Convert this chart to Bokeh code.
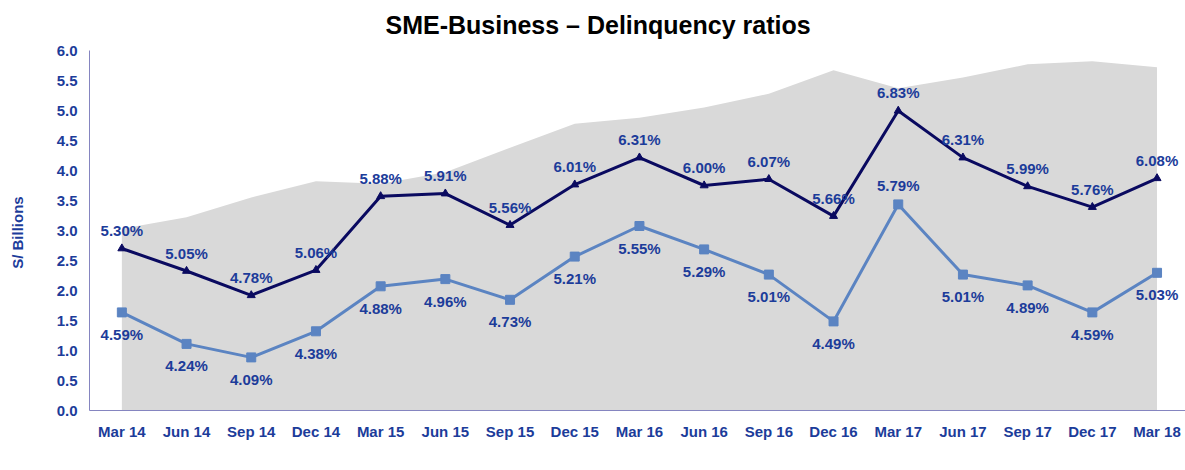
from bokeh.plotting import figure
from bokeh.models import Range1d, FixedTicker, Legend, LegendItem, Title, ColumnDataSource, NumeralTickFormatter
from bokeh.core.properties import value
from bokeh.embed import file_html
from bokeh.resources import INLINE

# ---- data ----
quarters = ["Mar 14", "Jun 14", "Sep 14", "Dec 14", "Mar 15", "Jun 15", "Sep 15", "Dec 15",
            "Mar 16", "Jun 16", "Sep 16", "Dec 16", "Mar 17", "Jun 17", "Sep 17", "Dec 17", "Mar 18"]
loans = [3.03, 3.22, 3.55, 3.82, 3.78, 3.97, 4.38, 4.78,
         4.88, 5.05, 5.28, 5.67, 5.37, 5.55, 5.77, 5.82, 5.72]
iol = [4.59, 4.24, 4.09, 4.38, 4.88, 4.96, 4.73, 5.21,
       5.55, 5.29, 5.01, 4.49, 5.79, 5.01, 4.89, 4.59, 5.03]
npl = [5.30, 5.05, 4.78, 5.06, 5.88, 5.91, 5.56, 6.01,
       6.31, 6.00, 6.07, 5.66, 6.83, 6.31, 5.99, 5.76, 6.08]
iol_label_side = ["below"] * 12 + ["above"] + ["below"] * 4
left_ticks = [0.0, 0.5, 1.0, 1.5, 2.0, 2.5, 3.0, 3.5, 4.0, 4.5, 5.0, 5.5, 6.0]

FONT = "Liberation Sans"
BLUE = "#1C3C9A"
NAVY = "#0A0A60"
LIGHT = "#5B84C2"
GRAY = "#D9D9D9"
AXIS = "#8585C0"

xs = list(range(len(quarters)))

p = figure(frame_width=1096, frame_height=360, output_backend="svg", toolbar_location=None,
           x_range=Range1d(-0.5, 16.44), y_range=Range1d(0, 6),
           min_border_left=89, min_border_right=0, min_border_top=50, min_border_bottom=0)
p.extra_y_ranges = {"pct": Range1d(3.5, 7.5)}
p.background_fill_color = "white"
p.border_fill_color = "white"
p.outline_line_color = None
p.grid.visible = False

t = Title(text="SME-Business \u2013 Delinquency ratios", align="left", offset=296,
          vertical_align="top",
          text_font=FONT, text_font_size="25px", text_font_style="bold", text_color="black",
          standoff=19)
p.add_layout(t, "above")

area = p.varea(x=xs, y1=[0] * len(xs), y2=loans, fill_color=GRAY)

iol_line = p.line(xs, iol, y_range_name="pct", line_color=LIGHT, line_width=3)
iol_pts = p.scatter(xs, iol, y_range_name="pct", marker="square", size=9,
                    fill_color=LIGHT, line_color=LIGHT)
npl_line = p.line(xs, npl, y_range_name="pct", line_color=NAVY, line_width=3)
npl_pts = p.scatter(xs, npl, y_range_name="pct", marker="triangle", size=8,
                    fill_color=NAVY, line_color=NAVY)

npl_src = ColumnDataSource(dict(x=xs, y=npl, t=["%.2f%%" % v for v in npl]))
p.text(x="x", y="y", text="t", source=npl_src, y_range_name="pct", y_offset=-18,
       text_align="center", text_baseline="middle", text_font=value(FONT),
       text_font_size="15px", text_font_style="bold", text_color=BLUE)
iol_src = ColumnDataSource(dict(x=xs, y=iol, t=["%.2f%%" % v for v in iol],
                                off=[22 if s == "below" else -19 for s in iol_label_side]))
p.text(x="x", y="y", text="t", source=iol_src, y_range_name="pct", y_offset="off",
       text_align="center", text_baseline="middle", text_font=value(FONT),
       text_font_size="15px", text_font_style="bold", text_color=BLUE)

# axes
ya = p.yaxis[0]
ya.ticker = FixedTicker(ticks=left_ticks)
ya.formatter = NumeralTickFormatter(format="0.0")
ya.axis_label = "S/  Billions"
ya.axis_label_text_font = FONT
ya.axis_label_text_font_size = "15px"
ya.axis_label_text_font_style = "bold"
ya.axis_label_text_color = BLUE
ya.axis_label_standoff = 28
ya.major_label_text_font = FONT
ya.major_label_text_font_size = "15px"
ya.major_label_text_font_style = "bold"
ya.major_label_text_color = BLUE
ya.major_label_standoff = 12
ya.major_tick_out = 0
ya.major_tick_in = 0
ya.minor_tick_out = 0
ya.minor_tick_in = 0
ya.axis_line_color = AXIS

xa = p.xaxis[0]
xa.ticker = FixedTicker(ticks=xs)
xa.major_label_overrides = {i: q for i, q in enumerate(quarters)}
xa.major_label_text_font = FONT
xa.major_label_text_font_size = "15px"
xa.major_label_text_font_style = "bold"
xa.major_label_text_color = BLUE
xa.major_label_standoff = 12
xa.axis_label_standoff = 0
xa.major_tick_out = 0
xa.major_tick_in = 0
xa.minor_tick_out = 0
xa.minor_tick_in = 0
xa.axis_line_color = AXIS

legend = Legend(items=[LegendItem(label="Loans (Left axis)", renderers=[area]),
                       LegendItem(label="IOL ratio", renderers=[iol_line, iol_pts]),
                       LegendItem(label="NPL ratio", renderers=[npl_line, npl_pts])],
                orientation="horizontal", location="center", spacing=182,
                glyph_width=32, glyph_height=10, label_height=15, label_standoff=4,
                padding=0, margin=0, border_line_color=None, background_fill_alpha=0,
                label_text_font=FONT, label_text_font_size="15px",
                label_text_font_style="bold", label_text_color=BLUE)
p.add_layout(legend, "below")

open("out.html", "w").write(file_html(p, INLINE))
